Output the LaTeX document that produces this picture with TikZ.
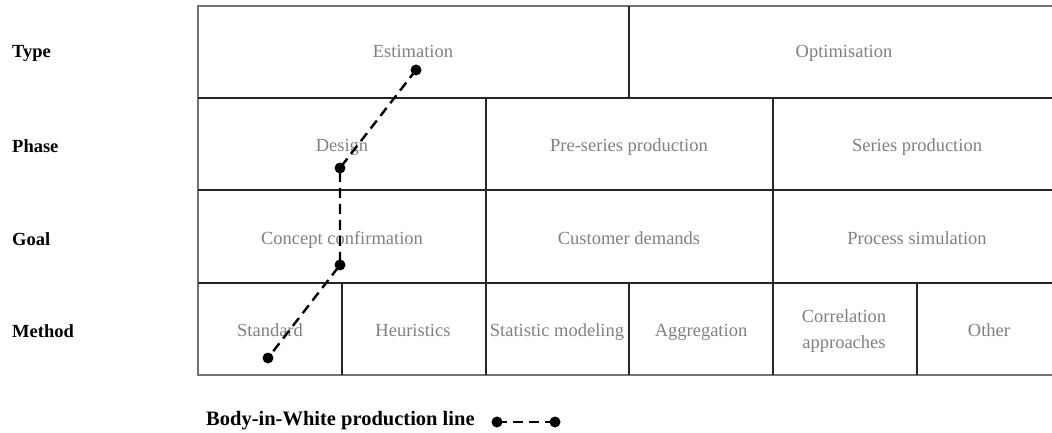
\documentclass[tikz,border=0pt]{standalone}
\usepackage{fontspec}
\setmainfont{Liberation Serif}
\begin{document}
\begin{tikzpicture}[x=1pt,y=-1pt,
  cell/.style={text=black!50, font=\fontsize{18.5}{22}\selectfont, align=center, text height=13pt, text depth=4pt},
  rowlabel/.style={anchor=west, font=\bfseries\fontsize{18.5}{22}\selectfont, inner sep=0pt},
  inner/.style={draw=black!85, line width=1.1pt},
  outer/.style={draw=black!55, line width=1.3pt},
  stop/.style={circle, fill=black, inner sep=0pt, minimum size=11pt},
  route/.style={line width=2.4pt, dash pattern=on 10pt off 6pt}]
\useasboundingbox (0,0) rectangle (1052,433);

% table frame
\draw[outer] (1052,6) -- (198,6) -- (198,375) -- (1052,375);
% row separators
\draw[inner] (198,98) -- (1052,98);
\draw[inner] (198,190) -- (1052,190);
\draw[inner] (198,283) -- (1052,283);
% column separators
\draw[inner] (629,6) -- (629,98);
\draw[inner] (486,98) -- (486,375);
\draw[inner] (773,98) -- (773,375);
\draw[inner] (342,283) -- (342,375);
\draw[inner] (629,283) -- (629,375);
\draw[inner] (917,283) -- (917,375);

% row labels
\node[rowlabel] (lt) at (12,53) {Type};
\node[rowlabel] (lp) at (12,146) {Phase};
\node[rowlabel] (lg) at (12,239) {Goal};
\node[rowlabel] (lm) at (12,331) {Method};

% cells
\node[cell] (est) at (413,53) {Estimation};
\node[cell] (opt) at (844,53) {Optimisation};
\node[cell] (des) at (342,147) {Design};
\node[cell] (pre) at (629,147) {Pre-series production};
\node[cell] (ser) at (917,147) {Series production};
\node[cell] (con) at (342,240) {Concept confirmation};
\node[cell] (cus) at (629,240) {Customer demands};
\node[cell] (pro) at (917,240) {Process simulation};
\node[cell] (std) at (270,332) {Standard};
\node[cell] (heu) at (413,332) {Heuristics};
\node[cell] (sta) at (557,332) {Statistic modeling};
\node[cell] (agg) at (701,332) {Aggregation};
\node[cell, font=\fontsize{18.5}{26}\selectfont, text height=, text depth=] (cor) at (844,331) {Correlation\\approaches};
\node[cell] (oth) at (989,332) {Other};

% production line path
\node[stop] (p1) at (416,70) {};
\node[stop] (p2) at (340,168) {};
\node[stop] (p3) at (340,265) {};
\node[stop] (p4) at (268,358) {};
\draw[route] (p1.center) -- (p2.center) -- (p3.center) -- (p4.center);

% legend
\node[rowlabel, font=\bfseries\fontsize{20.5}{24}\selectfont] (leg) at (206,421) {Body-in-White production line};
\node[stop] (l1) at (497,422) {};
\node[stop] (l2) at (555,422) {};
\draw[route] (l1.center) -- (l2.center);
\end{tikzpicture}
\end{document}
